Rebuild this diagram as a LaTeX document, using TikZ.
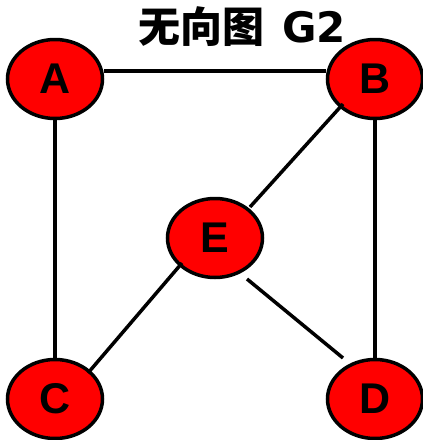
\documentclass[tikz,border=0pt]{standalone}
\usepackage{fontspec}
\setmainfont{Liberation Sans}
\newfontfamily\cjk{Noto Sans CJK SC}
\newfontfamily\dejav{DejaVu Sans}
\usetikzlibrary{shapes.geometric,calc}
\tikzset{
  vtx/.style={ellipse, draw=black, fill=red, line width=3.5pt, minimum width=95pt, minimum height=79pt, inner sep=0pt, font=\fontsize{43}{43}\selectfont\bfseries},
  edge/.style={line width=3.5pt, draw=black}
}
\begin{document}
\begin{tikzpicture}[x=1pt,y=-1pt]
\useasboundingbox (0,0) rectangle (423,440);
\node[inner sep=0pt] (T) at (242,27) {\fontsize{42}{42}\selectfont\cjk\bfseries 无向图\hspace{18pt}\dejav\bfseries G2};
\node[vtx] (A) at (55,79) {A};
\node[vtx] (B) at (375,79) {B};
\node[vtx] (E) at (215,238) {E};
\node[vtx] (C) at (55,399) {C};
\node[vtx] (D) at (375,399) {D};
\draw[edge] ([yshift=8pt]A.east) -- ([yshift=8pt]B.west);
\draw[edge] (A.south) -- (C.north);
\draw[edge] (B.south) -- (D.north);
\draw[edge] ($(B)+(-32,25)$) -- ($(E)+(35,-31)$);
\draw[edge] ($(E)+(-33,25)$) -- ($(C)+(33,-26)$);
\draw[edge] ($(E)+(32,41)$) -- ($(D)+(-32,-41)$);
\end{tikzpicture}
\end{document}
